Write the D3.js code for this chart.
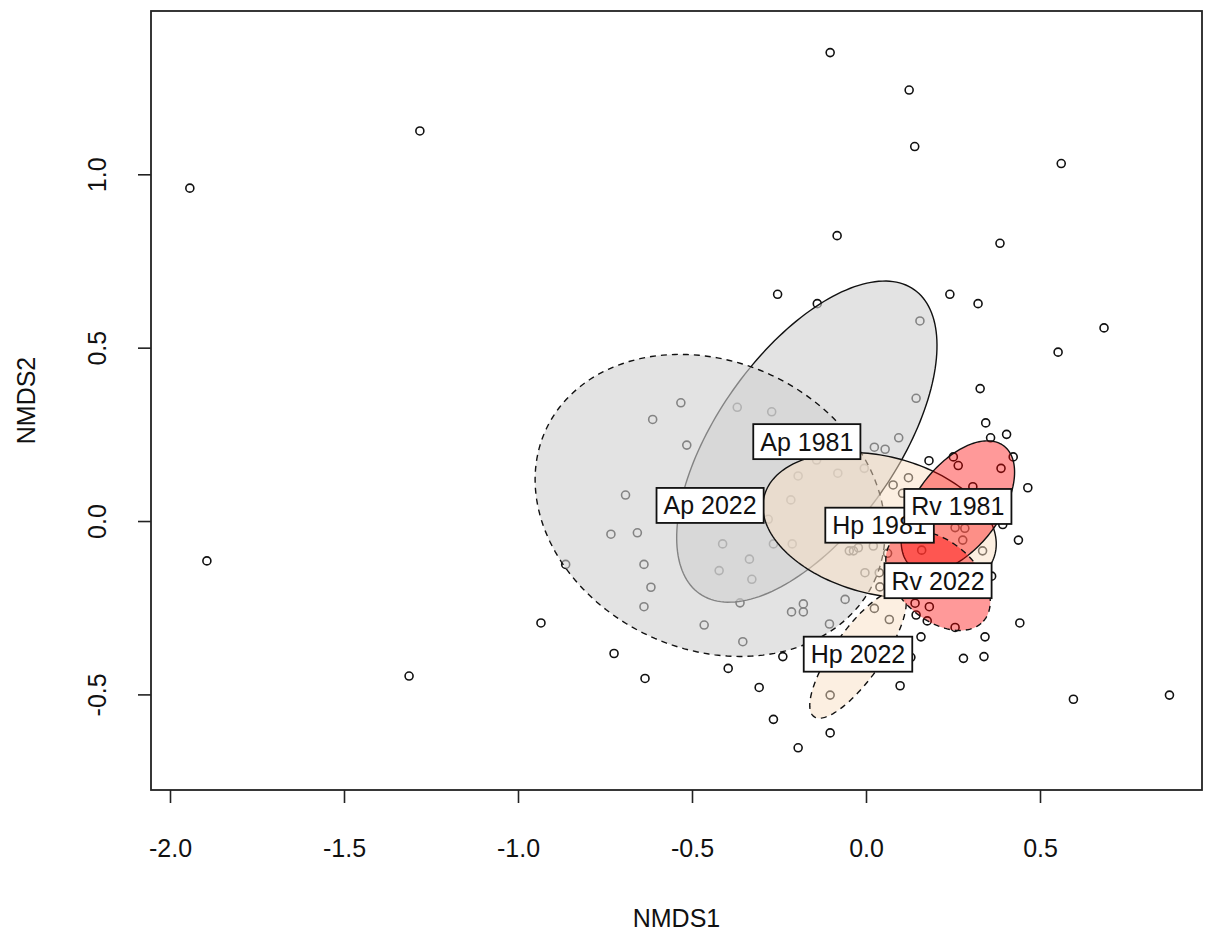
<!DOCTYPE html>
<html>
<head>
<meta charset="utf-8">
<script src="https://cdn.jsdelivr.net/npm/d3@7"></script>
<style>
  body { margin: 0; background: #fff; }
  svg { font-family: "Liberation Sans", Arial, sans-serif; }
</style>
</head>
<body>
<svg id="chart" width="1205" height="934"></svg>
<script>
// site scores (NMDS1, NMDS2)
const siteX = [-1.943, -1.282, -1.894, -1.313, -0.934, -0.103, 0.124, 0.140, -0.083, 0.385,
  0.561, 0.684, 0.552, -0.254, -0.140, 0.241, 0.322, 0.155, 0.328, 0.144,
  0.344, 0.404, 0.358, 0.094, -0.271, 0.024, 0.055, 0.181, 0.423, 0.465,
  0.265, 0.388, 0.251, -0.195, -0.081, -0.005, 0.078, 0.122, -0.142, 0.307,
  0.203, 0.105, 0.256, 0.284, 0.278, 0.335, 0.438, 0.393, -0.022, 0.021,
  0.062, -0.048, -0.036, -0.003, 0.038, 0.040, 0.361, -0.060, 0.024, 0.067,
  0.141, 0.144, 0.176, 0.182, 0.256, 0.158, 0.342, 0.280, 0.339, 0.442,
  0.129, 0.098, -0.103, -0.239, -0.307, -0.266, -0.103, -0.195, -0.105, -0.214,
  -0.180, -0.180, -0.354, -0.216, -0.266, -0.212, -0.335, -0.328, 0.160, -0.532,
  -0.613, -0.370, -0.515, -0.281, -0.412, -0.422, -0.638, -0.618, -0.638, -0.362,
  -0.465, -0.691, -0.733, -0.657, -0.863, -0.724, -0.396, -0.635, 0.596, 0.872];
const siteY = [0.960, 1.125, -0.115, -0.447, -0.294, 1.351, 1.243, 1.080, 0.823, 0.801,
  1.031, 0.557, 0.487, 0.654, 0.627, 0.654, 0.627, 0.577, 0.382, 0.354,
  0.283, 0.250, 0.240, 0.240, 0.315, 0.213, 0.207, 0.174, 0.185, 0.096,
  0.160, 0.152, 0.185, 0.130, 0.138, 0.152, 0.104, 0.125, 0.176, 0.099,
  0.075, 0.080, -0.019, -0.021, -0.055, -0.086, -0.055, -0.010, -0.077, -0.072,
  -0.093, -0.086, -0.086, -0.149, -0.149, -0.190, -0.159, -0.226, -0.252, -0.284,
  -0.237, -0.271, -0.288, -0.247, -0.307, -0.334, -0.334, -0.396, -0.391, -0.294,
  -0.393, -0.475, -0.502, -0.391, -0.480, -0.572, -0.611, -0.654, -0.297, -0.262,
  -0.239, -0.262, -0.348, 0.061, -0.066, -0.066, -0.110, -0.168, -0.084, 0.341,
  0.293, 0.328, 0.219, 0.005, -0.066, -0.143, -0.125, -0.191, -0.247, -0.236,
  -0.300, 0.075, -0.038, -0.034, -0.125, -0.382, -0.425, -0.454, -0.514, -0.502];

// ellipses, in drawing order
const groups = ["Ap 1981", "Ap 2022", "Hp 1981", "Hp 2022", "Rv 1981", "Rv 2022"];
const ellCx = [-0.170, -0.448, 0.039, -0.023, 0.264, 0.207];
const ellCy = [0.229, 0.045, -0.012, -0.384, 0.042, -0.172];
const ellA = [0.536, 0.520, 0.342, 0.220, 0.219, 0.175];
const ellB = [0.259, 0.415, 0.199, 0.070, 0.120, 0.112];
const ellAngle = [54.9, -25, -14, 55, 53, -42];

const xTicks = [-2.0, -1.5, -1.0, -0.5, 0.0, 0.5];
const xTickLabels = ["-2.0", "-1.5", "-1.0", "-0.5", "0.0", "0.5"];
const yTicks = [-0.5, 0.0, 0.5, 1.0];
const yTickLabels = ["-0.5", "0.0", "0.5", "1.0"];

const fills = { Ap: "#d0d0d0", Hp: "#f9dfc3", Rv: "#ff0000" };
const fillOpacity = { Ap: 0.6, Hp: 0.5, Rv: 0.4 };

const svg = d3.select("#chart");
const box = { left: 151, right: 1202, top: 11, bottom: 790 };
const fontSize = 25;

const x = d3.scaleLinear().domain([-2, 0.5]).range([170, 1040]);
const y = d3.scaleLinear().domain([-0.5, 1]).range([694.4, 174.3]);

const plot = svg.append("g");

// points first, ellipses are laid over them
plot.selectAll("circle.site")
  .data(siteX.map((v, i) => [v, siteY[i]]))
  .join("circle")
    .attr("class", "site")
    .attr("cx", d => x(d[0]))
    .attr("cy", d => y(d[1]))
    .attr("r", 4)
    .attr("fill", "none")
    .attr("stroke", "#111")
    .attr("stroke-width", 1.6);

const line = d3.line().curve(d3.curveLinearClosed);

groups.forEach((g, i) => {
  const th = ellAngle[i] * Math.PI / 180;
  const pts = d3.range(0, 2 * Math.PI, Math.PI / 90).map(t => {
    const u = ellA[i] * Math.cos(t), v = ellB[i] * Math.sin(t);
    return [x(ellCx[i] + u * Math.cos(th) - v * Math.sin(th)),
            y(ellCy[i] + u * Math.sin(th) + v * Math.cos(th))];
  });
  const sp = g.slice(0, 2);
  plot.append("path")
    .attr("d", line(pts))
    .attr("fill", fills[sp])
    .attr("fill-opacity", fillOpacity[sp])
    .attr("stroke", "#111")
    .attr("stroke-width", 1.4)
    .attr("stroke-dasharray", g.endsWith("2022") ? "6,5" : null);
});

// labels at ellipse centres
groups.forEach((g, i) => {
  const lg = plot.append("g")
    .attr("transform", `translate(${x(ellCx[i])},${y(ellCy[i])})`);
  const rect = lg.append("rect");
  const t = lg.append("text")
    .attr("text-anchor", "middle")
    .attr("dy", "0.36em")
    .attr("font-size", fontSize)
    .attr("fill", "#111")
    .text(g);
  const w = t.node().getComputedTextLength() + 14;
  rect.attr("x", -w / 2).attr("y", -17.5)
    .attr("width", w).attr("height", 35)
    .attr("fill", "#fff")
    .attr("stroke", "#111")
    .attr("stroke-width", 1.8);
});

// frame
svg.append("rect")
  .attr("x", box.left).attr("y", box.top)
  .attr("width", box.right - box.left).attr("height", box.bottom - box.top)
  .attr("fill", "none")
  .attr("stroke", "#222")
  .attr("stroke-width", 1.8);

const xAxis = svg.append("g")
  .attr("transform", `translate(0,${box.bottom})`)
  .call(d3.axisBottom(x).tickValues(xTicks).tickSize(13).tickPadding(36)
    .tickFormat((d, i) => xTickLabels[i]));
xAxis.select(".domain").remove();
xAxis.selectAll("line").attr("stroke", "#222").attr("stroke-width", 1.6);
xAxis.selectAll("text").attr("font-size", fontSize).attr("font-family", "Liberation Sans, Arial").attr("fill", "#111");

const yAxis = svg.append("g")
  .attr("transform", `translate(${box.left},0)`)
  .call(d3.axisLeft(y).tickValues(yTicks).tickSize(13)
    .tickFormat((d, i) => yTickLabels[i]));
yAxis.select(".domain").remove();
yAxis.selectAll("line").attr("stroke", "#222").attr("stroke-width", 1.6);
yAxis.selectAll("text")
  .attr("x", 0).attr("dy", "0.35em")
  .attr("text-anchor", "middle")
  .attr("transform", `translate(${97 - box.left},0) rotate(-90)`)
  .attr("font-size", fontSize).attr("font-family", "Liberation Sans, Arial").attr("fill", "#111");

svg.append("text")
  .attr("x", (box.left + box.right) / 2).attr("y", 918)
  .attr("dy", "0.35em")
  .attr("text-anchor", "middle")
  .attr("font-size", fontSize)
  .attr("fill", "#111")
  .text("NMDS1");

svg.append("text")
  .attr("transform", `translate(26,${(box.top + box.bottom) / 2}) rotate(-90)`)
  .attr("dy", "0.35em")
  .attr("text-anchor", "middle")
  .attr("font-size", fontSize)
  .attr("fill", "#111")
  .text("NMDS2");
</script>
</body>
</html>
